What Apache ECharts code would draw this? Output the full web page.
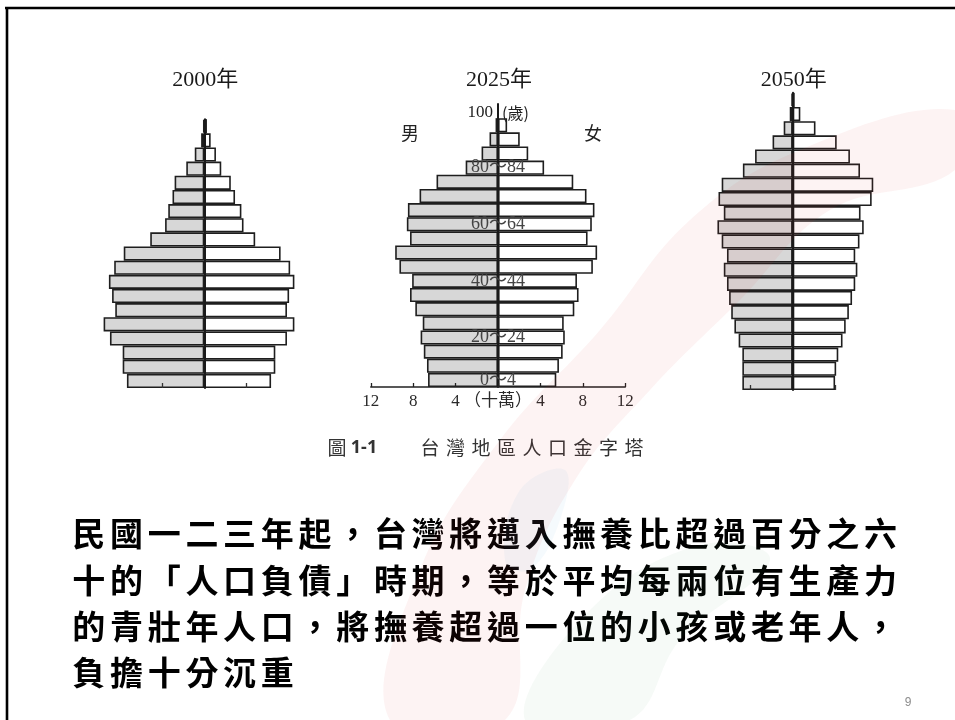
<!DOCTYPE html>
<html>
<head>
<meta charset="utf-8">
<script src="https://cdn.jsdelivr.net/npm/echarts@6.0.0/dist/echarts.min.js"></script>
<style>
html,body{margin:0;padding:0;background:#fff;}
#chart{width:955px;height:720px;}
</style>
</head>
<body>
<div id="chart"></div>
<script>
// ---------------- data ----------------
const ageSlots = ['0~4','5~9','10~14','15~19','20~24','25~29','30~34','35~39','40~44','45~49',
  '50~54','55~59','60~64','65~69','70~74','75~79','80~84','85~89','90~94','95~99','100~'];
const years = ['2000年','2025年','2050年'];
// population per age group, unit: 十萬 (100,000)
const male2000   = [7.3,7.7,7.7,8.9,9.5,8.4,8.7,9.0,8.5,7.6,5.1,3.7,3.4,3.0,2.8,1.7,0.9,0.3,0.1];
const female2000 = [6.3,6.7,6.7,7.8,8.5,7.8,8.0,8.5,8.1,7.2,4.8,3.7,3.5,2.9,2.5,1.6,1.1,0.6,0.25];
const male2025   = [6.6,6.7,7.0,7.3,7.1,7.8,8.3,8.1,9.3,9.7,8.3,8.6,8.5,7.4,5.8,3.05,1.55,0.8,0.23,null];
const female2025 = [5.5,5.75,6.1,6.3,6.2,7.2,7.6,7.45,8.95,9.35,8.45,8.85,9.1,8.35,7.1,4.35,2.85,2.05,0.86,null];
const male2050   = [4.75,4.75,4.75,5.1,5.5,5.8,6.0,6.2,6.5,6.2,6.7,7.1,6.5,7.0,6.7,4.7,3.55,1.9,0.85,0.28,0.12];
const female2050 = [4.0,4.1,4.3,4.7,5.0,5.3,5.6,5.9,6.1,5.9,6.3,6.7,6.4,7.45,7.6,6.35,5.4,4.15,2.15,0.72,0.19];
const maleData = [male2000, male2025, male2050];
const femaleData = [female2000, female2025, female2050];
const slotCounts = [19, 20, 21];
// tick labels
const xTickValues = [-12,-8,-4,0,4,8,12];
const xUnitLabel = '（十萬）';
const ageTickLabels2025 = ['0～4','','','20～24','','','','40～44','','','','60～64','','','','80～84','','','',''];
const sexLabels = ['男','女'];
const topAgeLabel = ['100','(歲)'];
const caption = ['圖','1-1','台灣地區人口金字塔'];
const bodyLines = [
  '民國一二三年起，台灣將邁入撫養比超過百分之六',
  '十的「人口負債」時期，等於平均每兩位有生產力',
  '的青壯年人口，將撫養超過一位的小孩或老年人，',
  '負擔十分沉重'
];
const pageNumber = '9';

// ---------------- layout ----------------
const PX = 10.6;                 // pixels per unit
const centers = [204.3, 498, 792.7];
const bottoms = [388, 387, 390];
const slotH = 14.15;
const SERIF = "'Liberation Serif','DejaVu Serif','Noto Sans CJK TC',serif";
const CJK = "'Noto Sans CJK TC','Noto Sans CJK SC',sans-serif";

const grids = [], xAxes = [], yAxes = [], series = [];
for (let i = 0; i < 3; i++) {
  const n = slotCounts[i];
  grids.push({
    left: centers[i] - 12 * PX, width: 24 * PX,
    top: bottoms[i] - n * slotH, height: n * slotH,
    containLabel: false
  });
  const isMid = i === 1;
  xAxes.push({
    type: 'value', gridIndex: i, min: -12, max: 12, interval: 4, z: 10,
    axisLine: { show: isMid, onZero: false, lineStyle: { color: '#222', width: 1.6 } },
    axisTick: isMid
      ? { show: true, inside: true, length: 4, lineStyle: { color: '#222', width: 1.3 } }
      : { show: true, inside: true, length: 5, customValues: [-4, 4], lineStyle: { color: '#333', width: 1.3 } },
    axisLabel: {
      show: isMid, margin: 6, color: '#2a2a2a', fontFamily: SERIF, fontSize: 17,
      formatter: v => v === 0 ? xUnitLabel : String(Math.abs(v)),
      customValues: xTickValues
    },
    splitLine: { show: false }
  });
  yAxes.push({
    type: 'category', gridIndex: i, data: ageSlots.slice(0, n), z: 10,
    axisLine: { show: true, onZero: true, lineStyle: { color: '#1a1a1a', width: 2 } },
    axisTick: { show: false },
    axisLabel: {
      show: isMid, margin: -12 * PX, align: 'center', color: '#444',
      fontFamily: SERIF, fontSize: 18,
      interval: (idx) => !!ageTickLabels2025[idx],
      formatter: (v, idx) => ageTickLabels2025[idx] || ''
    },
    splitLine: { show: false }
  });
  series.push({
    type: 'bar', name: '男', xAxisIndex: i, yAxisIndex: i,
    data: maleData[i].map(v => v == null ? '-' : -v),
    barCategoryGap: 0, barGap: '-100%', silent: true,
    itemStyle: { color: '#d7d7d7', borderColor: '#1e1e1e', borderWidth: 1.6 }
  });
  series.push({
    type: 'bar', name: '女', xAxisIndex: i, yAxisIndex: i,
    data: femaleData[i].map(v => v == null ? '-' : v),
    barCategoryGap: 0, barGap: '-100%', silent: true,
    itemStyle: { color: '#ffffff', borderColor: '#1e1e1e', borderWidth: 1.6 }
  });
}

function txt(text, x, y, font, fill, align) {
  return { type: 'text', x: x, y: y, silent: true, z: 20,
    style: { text: text, font: font, fill: fill || '#000',
      align: align || 'center', textAlign: align || 'center',
      verticalAlign: 'middle', textVerticalAlign: 'middle' } };
}

const g = [];
// watermark (faint)
g.push({ type: 'polygon', silent: true, z: 30,
  shape: { smooth: 0.4, points: [[390,720],[420,570],[500,440],[600,330],[690,220],[800,150],[955,110],
    [955,170],[830,210],[740,300],[650,390],[575,480],[525,590],[505,720]] },
  style: { fill: 'rgba(225,50,50,0.06)' } });
g.push({ type: 'polygon', silent: true, z: 30,
  shape: { smooth: 0.4, points: [[525,720],[590,610],[700,545],[770,560],[680,640],[630,720]] },
  style: { fill: 'rgba(40,150,60,0.045)' } });
g.push({ type: 'polygon', silent: true, z: 30,
  shape: { smooth: 0.4, points: [[505,560],[520,490],[565,470],[560,520],[530,570]] },
  style: { fill: 'rgba(60,150,220,0.05)' } });
// slide frame
g.push({ type: 'line', silent: true, z: 5, shape: { x1: 5, y1: 8, x2: 955, y2: 8 }, style: { stroke: '#000', lineWidth: 2.6 } });
g.push({ type: 'line', silent: true, z: 5, shape: { x1: 7, y1: 7, x2: 7, y2: 720 }, style: { stroke: '#000', lineWidth: 2.6 } });
// titles
for (let i = 0; i < 3; i++) g.push(txt(years[i], centers[i] + 1, 80, '22px ' + SERIF, '#1a1a1a'));
// 男 / 女
g.push(txt(sexLabels[0], 410, 133, '18px ' + CJK, '#222'));
g.push(txt(sexLabels[1], 593, 133, '18px ' + CJK, '#222'));
// 100(歲)
g.push(txt(topAgeLabel[0], 493, 113, '17px ' + SERIF, '#222', 'right'));
g.push(txt(topAgeLabel[1], 502, 113, '16px ' + CJK, '#222', 'left'));
// caption
g.push(txt(caption[0], 337, 448, '19px ' + CJK, '#333'));
g.push(txt(caption[1], 364, 448, 'bold 18px "Noto Sans", sans-serif', '#333'));
caption[2].split('').forEach((c, j) => g.push(txt(c, 430 + j * 25.5, 448, '19px ' + CJK, '#333')));
// body text
const lineYs = [533, 580, 626, 672];
bodyLines.forEach((line, li) => {
  line.split('').forEach((c, j) => g.push(txt(c, 70 + 18.8 + j * 37.7, lineYs[li], 'bold 33px ' + CJK, '#000')));
});
// page number
g.push(txt(pageNumber, 908, 703, '12px "Liberation Sans", sans-serif', '#8c8c8c'));

const chart = echarts.init(document.getElementById('chart'), null, { renderer: 'canvas' });
chart.setOption({
  animation: false,
  backgroundColor: '#ffffff',
  grid: grids, xAxis: xAxes, yAxis: yAxes, series: series,
  graphic: { elements: g }
});
</script>
</body>
</html>
